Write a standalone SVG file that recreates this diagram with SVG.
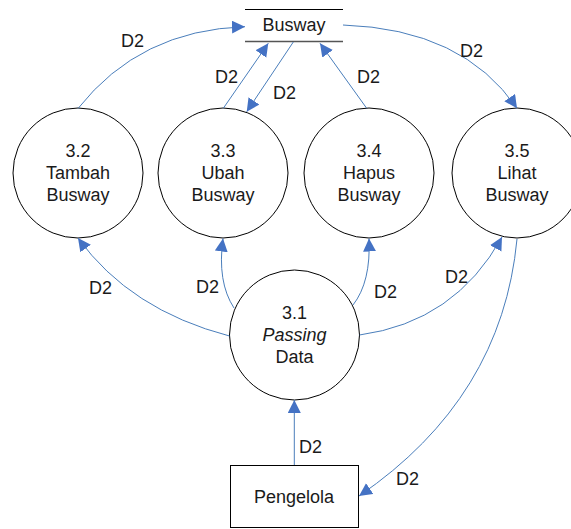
<svg xmlns="http://www.w3.org/2000/svg" width="571" height="529" viewBox="0 0 571 529">
<style>
  text { font-family: "Liberation Sans", Arial, sans-serif; font-size: 18px; fill: #1a1a1a; }
  .c { text-anchor: middle; }
  .proc { fill: #ffffff; stroke: #000000; stroke-width: 1; }
  .flow { fill: none; stroke: #4a7ebb; stroke-width: 1; marker-end: url(#arr); }
</style>
<defs>
  <marker id="arr" markerUnits="userSpaceOnUse" markerWidth="14" markerHeight="14" refX="13" refY="6.5" orient="auto">
    <path d="M0,0 L13,6.5 L0,13 z" fill="#4472c4"/>
  </marker>
</defs>
<rect width="571" height="529" fill="#ffffff"/>

<g id="store-busway">
  <line x1="245" y1="9.5" x2="343" y2="9.5" stroke="#000" stroke-width="1"/>
  <line x1="245" y1="41.5" x2="343" y2="41.5" stroke="#555" stroke-width="1.5"/>
  <text class="c" x="294" y="31">Busway</text>
</g>

<g id="p32">
  <circle class="proc" cx="78" cy="173" r="65"/>
  <text class="c" x="78" y="157">3.2</text>
  <text class="c" x="78" y="179">Tambah</text>
  <text class="c" x="78" y="201">Busway</text>
</g>
<g id="p33">
  <circle class="proc" cx="223" cy="173" r="65"/>
  <text class="c" x="223" y="157">3.3</text>
  <text class="c" x="223" y="179">Ubah</text>
  <text class="c" x="223" y="201">Busway</text>
</g>
<g id="p34">
  <circle class="proc" cx="369" cy="173" r="65"/>
  <text class="c" x="369" y="157">3.4</text>
  <text class="c" x="369" y="179">Hapus</text>
  <text class="c" x="369" y="201">Busway</text>
</g>
<g id="p35">
  <circle class="proc" cx="517" cy="173" r="65"/>
  <text class="c" x="517" y="157">3.5</text>
  <text class="c" x="517" y="179">Lihat</text>
  <text class="c" x="517" y="201">Busway</text>
</g>
<g id="p31">
  <circle class="proc" cx="294.5" cy="335" r="65"/>
  <text class="c" x="294.5" y="319">3.1</text>
  <text class="c" x="294.5" y="341" font-style="italic">Passing</text>
  <text class="c" x="294.5" y="363">Data</text>
</g>
<g id="pengelola">
  <rect x="230.5" y="465.5" width="128" height="62" fill="#ffffff" stroke="#000" stroke-width="1"/>
  <text class="c" x="294" y="503">Pengelola</text>
</g>

<g id="connectors">
  <path class="flow" d="M78,108.5 Q140,30 245,26.7"/>
  <path class="flow" d="M223.3,108.3 L268.3,43.3"/>
  <path class="flow" d="M293.3,42 L246.7,111.7"/>
  <path class="flow" d="M366.7,108.3 L320,43.3"/>
  <path class="flow" d="M343,25 Q463,29 517,108.3"/>
  <path class="flow" d="M229.5,336 Q130,310 78,238"/>
  <path class="flow" d="M234,308 Q217,282 223,238.5"/>
  <path class="flow" d="M353,305 Q371,282 369,238.5"/>
  <path class="flow" d="M359.5,335 Q455,322 502,237"/>
  <path class="flow" d="M294.3,465 L294.3,400"/>
  <path class="flow" d="M517,239 Q502,398 359,496"/>
</g>

<g id="labels">
  <text x="121" y="47">D2</text>
  <text x="215" y="83">D2</text>
  <text x="273" y="99">D2</text>
  <text x="357" y="83">D2</text>
  <text x="460" y="57">D2</text>
  <text x="89" y="294">D2</text>
  <text x="196" y="293">D2</text>
  <text x="374" y="298">D2</text>
  <text x="445" y="283">D2</text>
  <text x="299" y="453">D2</text>
  <text x="396" y="485">D2</text>
</g>
</svg>
